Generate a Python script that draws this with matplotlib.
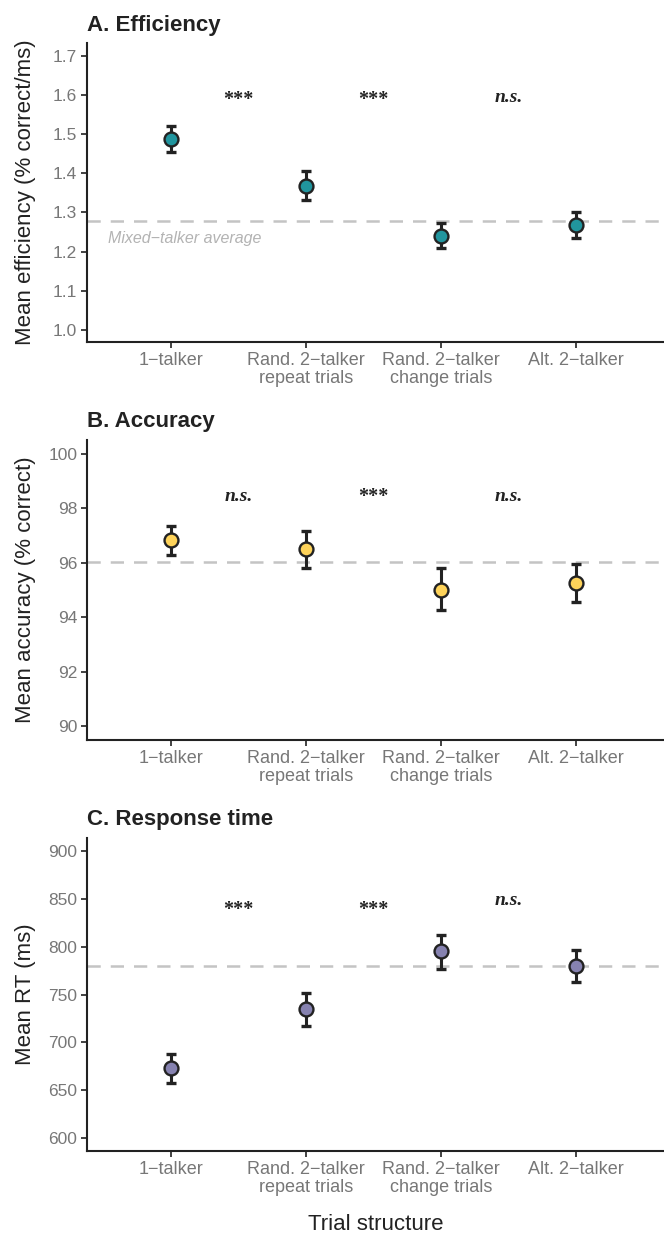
import matplotlib
matplotlib.use("Agg")
import matplotlib.pyplot as plt

categories = ["1\u2212talker", "Rand. 2\u2212talker\nrepeat trials",
              "Rand. 2\u2212talker\nchange trials", "Alt. 2\u2212talker"]

eff_mean = [1.488, 1.368, 1.241, 1.267]
eff_lo = [1.455, 1.333, 1.209, 1.235]
eff_hi = [1.520, 1.405, 1.274, 1.300]
eff_avg = 1.278
eff_sig = ["***", "***", "n.s."]
eff_sig_y = [1.588, 1.588, 1.594]

acc_mean = [96.82, 96.50, 95.00, 95.25]
acc_lo = [96.30, 95.82, 94.25, 94.55]
acc_hi = [97.35, 97.18, 95.80, 95.95]
acc_avg = 96.03
acc_sig = ["n.s.", "***", "n.s."]
acc_sig_y = [98.42, 98.40, 98.42]

rt_mean = [673, 735, 795, 780]
rt_lo = [657, 717, 777, 763]
rt_hi = [688, 752, 812, 797]
rt_avg = 780
rt_sig = ["***", "***", "n.s."]
rt_sig_y = [838, 838, 848]

sans = "Liberation Sans"

fig = plt.figure(figsize=(6.64, 12.34), dpi=100)

panels = [
    dict(title="A. Efficiency", ylabel="Mean efficiency (% correct/ms)",
         mean=eff_mean, lo=eff_lo, hi=eff_hi, avg=eff_avg, sig=eff_sig, sig_y=eff_sig_y,
         color="#21959e", ylim=(0.969, 1.733), ticks=[1.0, 1.1, 1.2, 1.3, 1.4, 1.5, 1.6, 1.7],
         fmt="{:.1f}", rect=[87/664, 1-342/1234, 1-87/664, (342-43)/1234], label=True),
    dict(title="B. Accuracy", ylabel="Mean accuracy (% correct)",
         mean=acc_mean, lo=acc_lo, hi=acc_hi, avg=acc_avg, sig=acc_sig, sig_y=acc_sig_y,
         color="#fed35a", ylim=(89.49, 100.51), ticks=[90, 92, 94, 96, 98, 100],
         fmt="{:.0f}", rect=[87/664, 1-740/1234, 1-87/664, (740-440)/1234], label=False),
    dict(title="C. Response time", ylabel="Mean RT (ms)",
         mean=rt_mean, lo=rt_lo, hi=rt_hi, avg=rt_avg, sig=rt_sig, sig_y=rt_sig_y,
         color="#8682b0", ylim=(586.4, 913.6), ticks=[600, 650, 700, 750, 800, 850, 900],
         fmt="{:.0f}", rect=[87/664, 1-1151/1234, 1-87/664, (1151-838)/1234], label=False),
]

xs = [1, 2, 3, 4]
for p in panels:
    ax = fig.add_axes(p["rect"])
    ax.axhline(p["avg"], color="#c4c4c4", lw=1.8, ls=(0, (5.3, 4.0)), zorder=1)
    yerr = [[m - l for m, l in zip(p["mean"], p["lo"])],
            [h - m for m, h in zip(p["mean"], p["hi"])]]
    ax.errorbar(xs, p["mean"], yerr=yerr, fmt="none", ecolor="#222222",
                elinewidth=2.2, capsize=3.7, capthick=2.4, zorder=2)
    ax.plot(xs, p["mean"], "o", ms=10, mfc=p["color"], mec="#222222", mew=1.7, zorder=3)
    for i, (s, yy) in enumerate(zip(p["sig"], p["sig_y"])):
        if s == "n.s.":
            ax.text(xs[i] + 0.5, yy, s, ha="center", va="center", fontsize=14,
                    family="Liberation Serif", style="italic", fontweight="bold", color="#222222")
        else:
            ax.text(xs[i] + 0.5, yy, s, ha="center", va="center", fontsize=14.5,
                    family="Liberation Serif", fontweight="bold", color="#222222")
    if p["label"]:
        ax.text(0.535, 1.233, "Mixed\u2212talker average", ha="left", va="center",
                fontsize=11.5, style="italic", color="#b3b3b3", family=sans)
    ax.set_xlim(0.38, 4.65)
    ax.set_ylim(*p["ylim"])
    ax.set_yticks(p["ticks"])
    ax.set_yticklabels([p["fmt"].format(t) for t in p["ticks"]], family=sans,
                       fontsize=12.5, color="#777777")
    ax.set_xticks(xs)
    ax.set_xticklabels(categories, family=sans, fontsize=13, color="#777777",
                       linespacing=1.1)
    ax.tick_params(axis="both", length=4, width=1.2, color="#222222", pad=3)
    for side in ["top", "right"]:
        ax.spines[side].set_visible(False)
    for side in ["left", "bottom"]:
        ax.spines[side].set_linewidth(1.5)
        ax.spines[side].set_color("#222222")
    ax.set_ylabel(p["ylabel"], fontsize=16, color="#222222", family=sans)
    ax.yaxis.set_label_coords(-0.088, 0.5)
    ax.set_title(p["title"], loc="left", fontsize=16, fontweight="bold", color="#222222",
                 family=sans, pad=9)
    ax.patch.set_alpha(0)
    last = ax

last.set_xlabel("Trial structure", fontsize=16, color="#222222", family=sans)
last.xaxis.set_label_coords(0.5, -0.2)

fig.savefig("out.png", dpi=100)
